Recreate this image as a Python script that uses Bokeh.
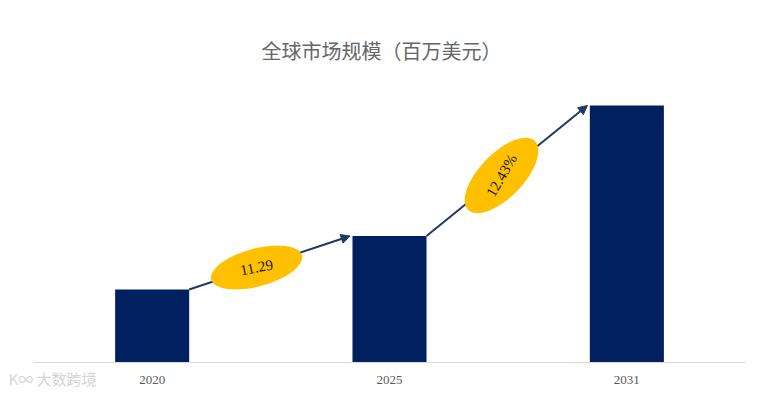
from bokeh.plotting import figure
from bokeh.models import Arrow, NormalHead, Label, ColumnDataSource, Range1d
from bokeh.core.properties import value
from bokeh.embed import file_html
from bokeh.resources import INLINE
import math

# ---- data ----
years = ["2020", "2025", "2031"]
market_size = [730, 1265, 2570]          # 百万美元
cagr_labels = ["11.29", "12.43%"]
title_text = "全球市场规模（百万美元）"

# ---- styles ----
BAR_COLOR = "#002060"
ARROW_COLOR = "#1F3864"
ELLIPSE_COLOR = "#FFC000"
TEXT_GREY = "#595959"
bar_w = 0.312

xs = list(range(len(years)))

# frame covers the whole canvas; 237.33 px per category, 10 units per px vertically
p = figure(width=783, height=393, output_backend="svg", toolbar_location=None,
           x_range=Range1d(-0.639, 2.660), y_range=Range1d(-310, 3620),
           min_border=0)
p.outline_line_color = None
p.grid.visible = False
p.axis.visible = False
p.background_fill_color = "white"
p.border_fill_color = "white"

src = ColumnDataSource(dict(x=xs, top=market_size, lab=years, ly=[-170] * len(xs)))
p.vbar(x="x", top="top", width=bar_w, bottom=0, source=src,
       fill_color=BAR_COLOR, line_color=None)

# category axis: baseline and year labels
p.segment(x0=[-0.5], y0=[0], x1=[2.5], y1=[0], line_color="#D9D9D9", line_width=1)
p.text(x="x", y="ly", text="lab", source=src,
       text_font=value("Liberation Serif"), text_font_size="13px",
       text_color=TEXT_GREY, text_align="center", text_baseline="middle")

# arrows between bar tops (drawn beneath the ellipses)
for i in range(len(xs) - 1):
    p.add_layout(Arrow(end=NormalHead(size=9, fill_color=ARROW_COLOR, line_color=ARROW_COLOR),
                       x_start=xs[i] + bar_w / 2, y_start=market_size[i],
                       x_end=xs[i + 1] - bar_w / 2 - 0.01, y_end=market_size[i + 1],
                       line_color=ARROW_COLOR, line_width=2, level="underlay"))

# growth ellipses
ell = ColumnDataSource(dict(
    x=[0.44, 1.472],
    y=[950, 1870],
    w=[94, 96],
    h=[38, 44],
    a=[math.radians(15), math.radians(46)],
    ta=[math.radians(11), math.radians(60)],
    t=cagr_labels,
))
p.ellipse(x="x", y="y", width="w", height="h", angle="a", source=ell,
          width_units="screen", height_units="screen",
          fill_color=ELLIPSE_COLOR, line_color=None)
p.text(x="x", y="y", text="t", angle="ta", source=ell,
       text_font=value("Liberation Serif"), text_font_size="15px",
       text_color="#1a1a1a", text_align="center", text_baseline="middle")

# title
p.add_layout(Label(x=381, y=393 - 50, x_units="screen", y_units="screen",
                   text=title_text, text_font="Noto Sans CJK SC",
                   text_font_size="20px", text_color="#666666",
                   text_align="center", text_baseline="middle"))

# watermark
p.add_layout(Label(x=8, y=393 - 378, x_units="screen", y_units="screen",
                   text="K∞ 大数跨境", text_font="Noto Sans CJK SC",
                   text_font_size="15px", text_color="#D4D4D4",
                   text_align="left", text_baseline="middle"))

open("out.html", "w").write(file_html(p, INLINE))
